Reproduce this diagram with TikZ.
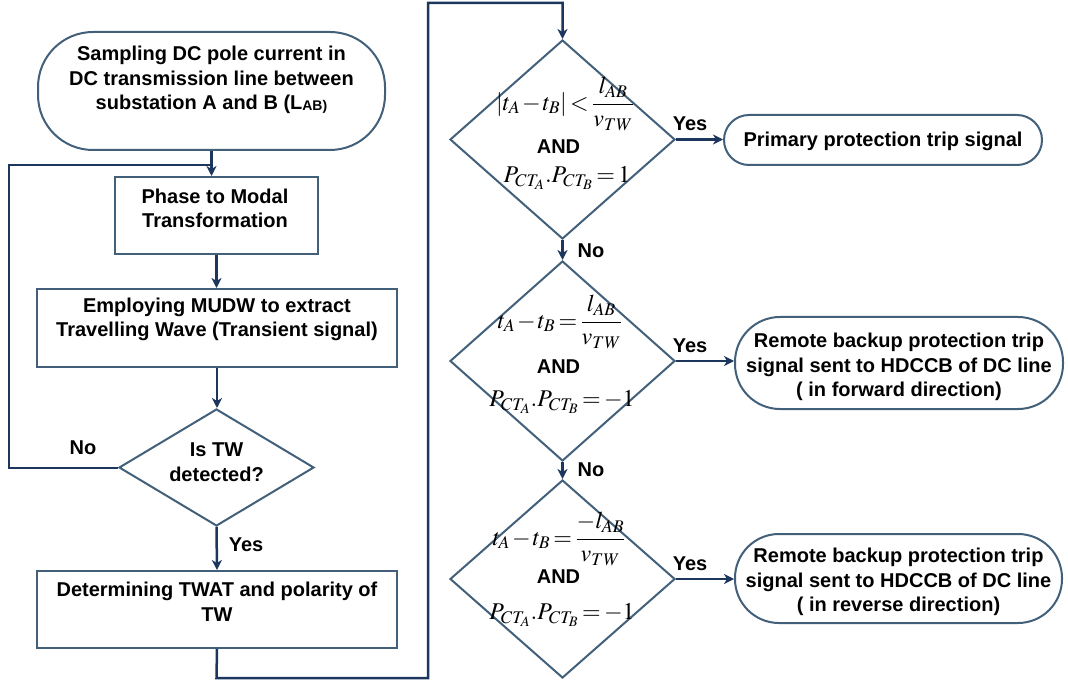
\documentclass[tikz,border=0pt]{standalone}
\usepackage{amsmath}
\usepackage{mathptmx}
\usepackage[no-math]{fontspec}
\setmainfont{Liberation Sans}
\usetikzlibrary{shapes.geometric,arrows.meta}
\definecolor{bordc}{RGB}{66,96,122}
\definecolor{arrc}{RGB}{28,54,94}
\newcommand{\tightmu}{\medmuskip=1.5mu\relax\thickmuskip=2.5mu\relax}
\tikzset{
 txt/.style={font=\fontsize{20}{24.5}\selectfont\bfseries, align=center, inner sep=0pt},
 procbox/.style={draw=bordc, line width=2pt, rectangle, inner sep=0pt},
 termbox/.style={draw=bordc, line width=2pt, rectangle, rounded corners=#1, inner sep=0pt},
 decbox/.style={draw=bordc, line width=2pt, diamond, inner sep=0pt},
 flow/.style={draw=arrc, line width=2.5pt, -{Stealth[length=10pt,width=10pt,inset=3pt]}},
 plain/.style={draw=arrc, line width=2.5pt},
 mth/.style={font=\fontsize{24}{28}\selectfont, inner sep=0pt},
}
\begin{document}
\begin{tikzpicture}[x=1pt,y=-1pt]
\useasboundingbox[fill=white] (0,0) rectangle (1068,684);
% left column
\node[termbox=55pt, minimum width=347pt, minimum height=118pt] (start) at (211.5,91) {};
\node[txt] (startt) at (211.5,80) {Sampling DC pole current in\\DC transmission line between\\substation A and B (L\raisebox{-1pt}{\fontsize{14}{14}\selectfont AB)}};
\node[procbox, minimum width=203pt, minimum height=77pt] (phase) at (216.5,215.5) {};
\node[txt] (phaset) at (215,208.5) {Phase to Modal\\Transformation};
\node[procbox, minimum width=360pt, minimum height=78pt] (employ) at (217,328) {};
\node[txt] (employt) at (217,319.5) {Employing MUDW to extract\\Travelling Wave (Transient signal)};
\node[decbox, minimum width=195pt, minimum height=117pt] (d0) at (216.5,467.5) {};
\node[txt] (d0t) at (216.5,462) {Is TW\\detected?};
\node[procbox, minimum width=360pt, minimum height=77pt] (det) at (217,609.5) {};
\node[txt] (dett) at (217,602) {Determining TWAT and polarity of\\TW};
\node[txt] (no0) at (83,448) {No};
\node[txt] (yes0) at (246,545) {Yes};
\coordinate (loopL) at (9,165);
\coordinate (bot) at (216.5,678);
\coordinate (topR) at (428,3);
% right column
\node[decbox, minimum width=225pt, minimum height=199pt] (d1) at (562.5,139.5) {};
\node[decbox, minimum width=225pt, minimum height=200pt] (d2) at (562.5,361) {};
\node[decbox, minimum width=225pt, minimum height=198pt] (d3) at (562.5,579) {};
\node[mth] (e1) at (565,104) {$\tightmu\displaystyle \left|t_A - t_B\right| < \frac{l_{AB}}{v_{TW}}$};
\node[txt] (a1) at (558.5,147) {AND};
\node[mth] (q1) at (567,178) {$\tightmu P_{CT_A}.P_{CT_B} = 1$};
\node[mth] (e2) at (560,322) {$\tightmu\displaystyle t_A - t_B = \frac{l_{AB}}{v_{TW}}$};
\node[txt] (a2) at (558.5,367) {AND};
\node[mth] (q2) at (562,402) {$\tightmu P_{CT_A}.P_{CT_B} = -1$};
\node[mth] (e3) at (559,539) {$\tightmu\displaystyle t_A - t_B = \frac{-l_{AB}}{v_{TW}}$};
\node[txt] (a3) at (558.5,577) {AND};
\node[mth] (q3) at (562,615) {$\tightmu P_{CT_A}.P_{CT_B} = -1$};
\node[termbox=25pt, minimum width=318pt, minimum height=50pt] (p1) at (883,140) {};
\node[txt] (p1t) at (883,141) {Primary protection trip signal};
\node[termbox=45pt, minimum width=328pt, minimum height=92pt] (p2) at (899,363) {};
\node[txt] (p2t) at (899,367) {Remote backup protection trip\\signal sent to HDCCB of DC line\\( in forward direction)};
\node[termbox=44pt, minimum width=327pt, minimum height=89pt] (p3) at (898.5,578.5) {};
\node[txt] (p3t) at (898.5,582) {Remote backup protection trip\\signal sent to HDCCB of DC line\\( in reverse direction)};
\node[txt] (y1) at (690,124) {Yes};
\node[txt] (y2) at (690,346) {Yes};
\node[txt] (y3) at (690,564) {Yes};
\node[txt] (n1) at (591,251) {No};
\node[txt] (n2) at (591,470) {No};
% connectors
\draw[flow] (start.south) -- (start.south |- phase.north);
\draw[plain, line width=2pt] (d0.west) -| (loopL) -- (start.south |- loopL);
\draw[flow] (phase.south) -- (phase.south |- employ.north);
\draw[flow] (employ.south) -- (employ.south |- d0.north);
\draw[flow] (d0.south) -- (det.north);
\draw[flow] (det.south) -- (bot) -| (topR) -| (d1.north);
\draw[flow] (d1.east) -- (d1.east -| p1.west);
\draw[flow] (d1.south) -- (d2.north);
\draw[flow] (d2.east) -- (d2.east -| p2.west);
\draw[flow] (d2.south) -- (d3.north);
\draw[flow] (d3.east) -- (d3.east -| p3.west);
\end{tikzpicture}
\end{document}
